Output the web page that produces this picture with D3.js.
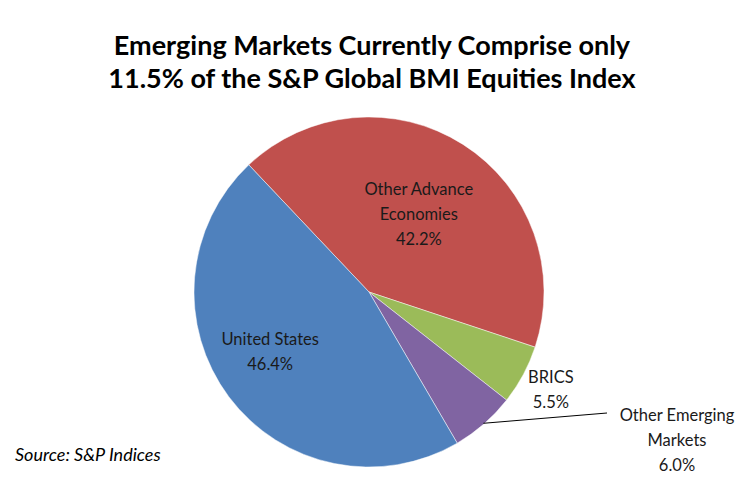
<!DOCTYPE html>
<html>
<head>
<meta charset="utf-8">
<script src="https://cdn.jsdelivr.net/npm/d3@7"></script>
<style>
  body { margin: 0; background: #fff; }
  svg { display: block; font-family: Lato, "Open Sans", sans-serif; }
</style>
</head>
<body>
<div id="chart"></div>
<script>
// slices, clockwise from the US / Other Advance border
var categories = ["Other Advance Economies", "BRICS", "Other Emerging Markets", "United States"];
var labelLines = [["Other Advance", "Economies"], ["BRICS"], ["Other Emerging", "Markets"], ["United States"]];
var shares = [42.2, 5.5, 6.0, 46.4];
var colors = ["#C0504D", "#9BBB59", "#8064A2", "#4F81BD"];
var titleLines = ["Emerging Markets Currently Comprise only", "11.5% of the S&P Global BMI Equities Index"];
var sourceText = "Source: S&P Indices";

var W = 749, H = 479;
var cx = 369, cy = 292, R = 175;
var start = -43.4 * Math.PI / 180;

var svg = d3.select("#chart").append("svg")
    .attr("width", W).attr("height", H);

// title
svg.append("g").selectAll("text")
    .data(titleLines)
    .enter().append("text")
    .attr("x", 372)
    .attr("y", function (d, i) { return 55 + i * 33; })
    .attr("text-anchor", "middle")
    .attr("font-size", 27)
    .attr("font-weight", "bold")
    .attr("fill", "#000")
    .text(function (d) { return d; });

var pie = d3.pie().sort(null).startAngle(start).endAngle(start + 2 * Math.PI);
var arcs = pie(shares);
var arc = d3.arc().innerRadius(0).outerRadius(R);

var g = svg.append("g").attr("transform", "translate(" + cx + "," + cy + ")");

g.selectAll("path")
    .data(arcs)
    .enter().append("path")
    .attr("d", arc)
    .attr("fill", function (d, i) { return colors[i]; })
    .attr("stroke", "#fff")
    .attr("stroke-opacity", 0.6)
    .attr("stroke-width", 0.8);

// label placement: radius factor (of R) along slice mid angle, plus small nudges
var labelPlace = [
    { r: 0.53, dx: 0, dy: 0 },
    { r: 1.18, dx: 0, dy: 0 },
    { r: 1.0, dx: 0, dy: 0, leader: true },
    { r: 0.62, dx: -12, dy: -5 }
];

function pt(angle, r) {
    return [Math.sin(angle) * r, -Math.cos(angle) * r];
}

arcs.forEach(function (d, i) {
    var mid = (d.startAngle + d.endAngle) / 2;
    var p = labelPlace[i];
    var lines = labelLines[i].concat([d3.format(".1f")(shares[i]) + "%"]);
    var lx, ly;
    if (p.leader) {
        var a = pt(mid, R * 0.995);
        lx = 308; ly = 148;
        g.append("line")
            .attr("x1", a[0]).attr("y1", a[1])
            .attr("x2", 238).attr("y2", 121)
            .attr("stroke", "#000").attr("stroke-width", 1);
    } else {
        var c = pt(mid, R * p.r);
        lx = c[0] + p.dx; ly = c[1] + p.dy;
    }
    var lh = 25;
    var top = ly - (lines.length - 1) * lh / 2;
    g.append("g").selectAll("text")
        .data(lines)
        .enter().append("text")
        .attr("x", lx)
        .attr("y", function (t, k) { return top + k * lh; })
        .attr("dy", "0.35em")
        .attr("text-anchor", "middle")
        .attr("font-size", 16.5)
        .attr("fill", "#1a1a1a")
        .text(function (t) { return t; });
});

svg.append("text")
    .attr("x", 15).attr("y", 461)
    .attr("font-size", 18)
    .attr("font-style", "italic")
    .attr("fill", "#000")
    .text(sourceText);
</script>
</body>
</html>
